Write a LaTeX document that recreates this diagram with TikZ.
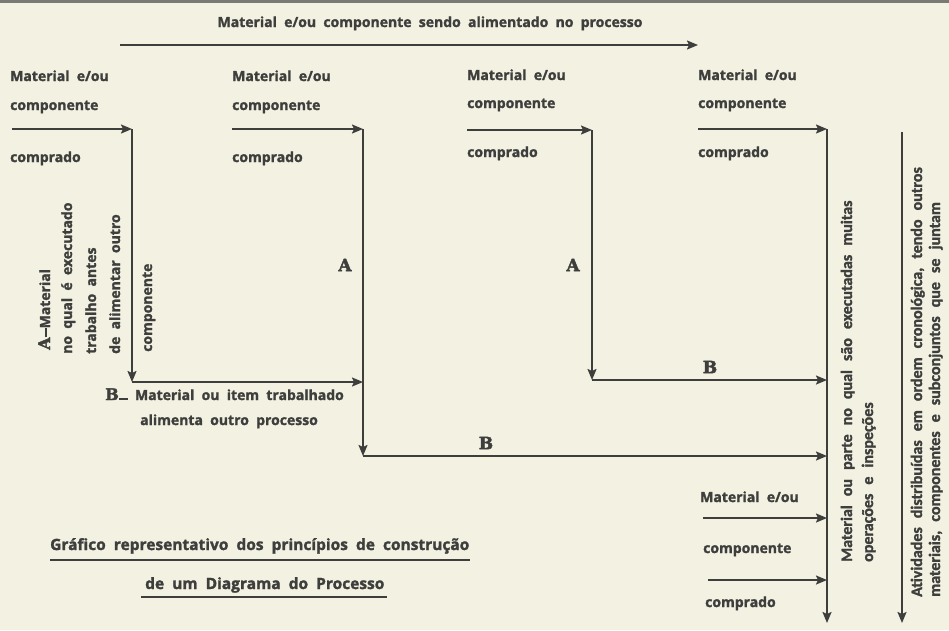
\documentclass[tikz,border=0pt]{standalone}
\usepackage{fontspec}
\usetikzlibrary{arrows.meta,calc}
\newfontfamily\gothic[WordSpace=2, FakeBold=1.6]{Open Sans}
\newfontfamily\carl[WordSpace=2.5, FakeBold=1.6]{Carlito}
\newfontfamily\slab[FakeBold=2.5]{DejaVu Serif}
\definecolor{bg}{HTML}{F2F1E2}
\definecolor{ink}{HTML}{3E3E3C}
\definecolor{topband}{HTML}{7A7A72}
\tikzset{
  lbl/.style={inner sep=0pt, text=ink, font=\gothic\bfseries\fontsize{14}{16}\selectfont},
  big/.style={inner sep=0pt, text=ink, font=\gothic\bfseries\fontsize{15.5}{18}\selectfont},
  vtxt/.style={inner sep=0pt, text=ink, rotate=90, anchor=base west, font=\carl\bfseries\fontsize{16}{18}\selectfont},
  vlbl/.style={lbl, rotate=90, anchor=base west},
  letter/.style={inner sep=0pt, text=ink, font=\slab\bfseries\fontsize{17}{18}\selectfont},
  flow/.style={draw=ink, line width=1.8pt, -{Stealth[length=11pt,width=9pt,inset=2pt]}},
  uline/.style={draw=ink, line width=1.7pt}
}
\newcommand{\dashA}{\rule[3.5pt]{9pt}{1.8pt}}
\newcommand{\dashB}{\rule[0pt]{9pt}{1.8pt}}
\begin{document}
\begin{tikzpicture}[x=1pt,y=-1pt]
\fill[bg] (0,0) rectangle (949,630);
\useasboundingbox (0,0) rectangle (949,630);
\fill[topband] (0,0) rectangle (949,2.5);

% top arrow
\node[lbl, anchor=base] (toptxt) at (430,27) {Material e/ou componente sendo alimentado no processo};
\coordinate (t0) at (120,45);
\coordinate (t1) at (698,45);
\draw[flow] (t0) -- (t1);

% column texts
\foreach \n/\x/\ya/\yb/\yc in {1/10/81/110/162, 2/232/81/110/162, 3/467/80/108/157, 4/698/80/108/157}{
  \node[lbl, anchor=base west] (m\n) at (\x,\ya) {Material e/ou};
  \node[lbl, anchor=base west] (c\n) at (\x,\yb) {componente};
  \node[lbl, anchor=base west] (p\n) at (\x,\yc) {comprado};
}

% coordinates
\coordinate (a1) at (12,129);
\coordinate (k1) at (132,129);
\coordinate (k1b) at (132,382);
\coordinate (a2) at (232,129);
\coordinate (k2) at (363,129);
\coordinate (k2b) at (363,382);
\coordinate (k2c) at (363,456);
\coordinate (a3) at (467,130);
\coordinate (k3) at (592,130);
\coordinate (k3b) at (592,380);
\coordinate (a4) at (698,129);
\coordinate (main) at (827,129);
\coordinate (mB1) at (827,380);
\coordinate (mB2) at (827,456);
\coordinate (mL1) at (827,518);
\coordinate (mL2) at (827,580);
\coordinate (mEnd) at (827,623);
\coordinate (l1) at (703,518);
\coordinate (l2) at (708,580);
\coordinate (r0) at (902,132);
\coordinate (rEnd) at (902,623);

% arrows
\draw[flow] (a1) -- (k1);
\draw[flow] (k1) -- (k1b);
\draw[flow] (k1b) -- (k2b);
\draw[flow] (a2) -- (k2);
\draw[flow] (k2) -- (k2c);
\draw[flow] (k2c) -- (mB2);
\draw[flow] (a3) -- (k3);
\draw[flow] (k3) -- (k3b);
\draw[flow] (k3b) -- (mB1);
\draw[flow] (a4) -- (main);
\draw[flow] (main) -- (mEnd);
\draw[flow] (l1) -- (mL1);
\draw[flow] (l2) -- (mL2);
\draw[flow] (r0) -- (rEnd);

% lower feeding texts
\node[lbl, anchor=base west] (m5) at (700,502) {Material e/ou};
\node[lbl, anchor=base west] (c5) at (703,553) {componente};
\node[lbl, anchor=base west] (p5) at (705,607) {comprado};

% letters A / B
\node[letter] (A1) at (345,265) {A};
\node[letter] (A2) at (573,265) {A};
\node[letter] (B1) at (710,367) {B};
\node[letter] (B2) at (486,443) {B};

% left vertical explanation
\node[vlbl] (va) at (50,350) {{\slab\bfseries\fontsize{16}{16}\selectfont A}\dashA Material};
\node[vlbl] (vb) at (72,354) {no qual é executado};
\node[vlbl] (vc) at (96,354) {trabalho antes};
\node[vlbl] (vd) at (120,354) {de alimentar outro};
\node[vlbl] (ve) at (152,352) {componente};

% B explanation
\node[lbl, anchor=base west] (bx) at (105,400) {{\slab\bfseries\fontsize{16}{16}\selectfont B}\dashB\ Material ou item trabalhado};
\node[lbl, anchor=base west] (by) at (140,425) {alimenta outro processo};

% right vertical texts
\node[vtxt] (r1) at (852,562) {Material ou parte no qual são executadas muitas};
\node[vtxt] (r2) at (873,562) {operações e inspeções};
\node[vtxt] (r3) at (922,597) {Atividades distribuídas em ordem cronológica, tendo outros};
\node[vtxt] (r4) at (940,597) {materiais, componentes e subconjuntos que se juntam};

% title
\node[big, anchor=base west] (g1) at (50,550) {Gráfico representativo dos princípios de construção};
\node[big, anchor=base west] (g2) at (145,589) {de um Diagrama do Processo};
\draw[uline] ($(g1.base west)+(0,10)$) -- ($(g1.base east)+(0,10)$);
\draw[uline] ($(g2.base west)+(-4,8)$) -- ($(g2.base east)+(2,8)$);
\end{tikzpicture}
\end{document}
